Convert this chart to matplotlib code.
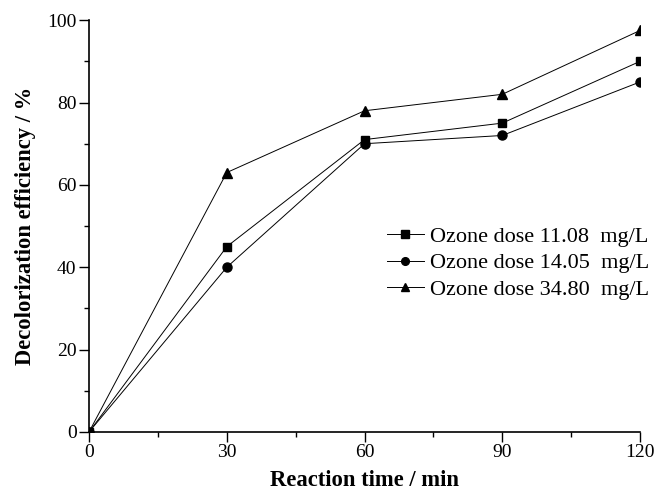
import matplotlib
matplotlib.use("Agg")
import matplotlib.pyplot as plt
from matplotlib.ticker import MultipleLocator

plt.rcParams['font.family'] = ['Liberation Serif', 'DejaVu Serif']

time = [0, 30, 60, 90, 120]
dose_11 = [0, 45, 71, 75, 90]
dose_14 = [0, 40, 70, 72, 85]
dose_34 = [0, 63, 78, 82, 97.5]
labels = ["Ozone dose 11.08  mg/L", "Ozone dose 14.05  mg/L", "Ozone dose 34.80  mg/L"]

fig = plt.figure(figsize=(6.56, 4.92), dpi=100)
ax = fig.add_axes([0.1357, 0.122, 0.84, 0.837])

ax.plot(time, dose_11, color='black', lw=0.7, marker='s', ms=6, label=labels[0])
ax.plot(time, dose_14, color='black', lw=0.7, marker='o', ms=6.5, label=labels[1])
ax.plot(time, dose_34, color='black', lw=0.7, marker='^', ms=7, label=labels[2])

ax.set_xlim(0, 120)
ax.set_ylim(0, 100)
ax.xaxis.set_major_locator(MultipleLocator(30))
ax.xaxis.set_minor_locator(MultipleLocator(15))
ax.yaxis.set_major_locator(MultipleLocator(20))
ax.yaxis.set_minor_locator(MultipleLocator(10))
ax.spines['top'].set_visible(False)
ax.spines['right'].set_visible(False)
for s in ['left', 'bottom']:
    ax.spines[s].set_linewidth(1.2)
ax.tick_params(which='major', direction='out', length=7, width=1.0, labelsize=14, pad=2)
ax.tick_params(which='minor', direction='out', length=3.5, width=1.0)
ax.set_xlabel("Reaction time / min", fontsize=16.3, fontweight='bold', labelpad=6)
ax.set_ylabel("Decolorization efficiency / %", fontsize=16.3, fontweight='bold', labelpad=8)

ax.legend(loc='upper left', bbox_to_anchor=(0.54, 0.50), frameon=False, fontsize=16,
          handlelength=1.7, handletextpad=0.25, labelspacing=0.28, borderaxespad=0,
          borderpad=0, markerscale=0.85)

fig.savefig("out.png", dpi=100)
